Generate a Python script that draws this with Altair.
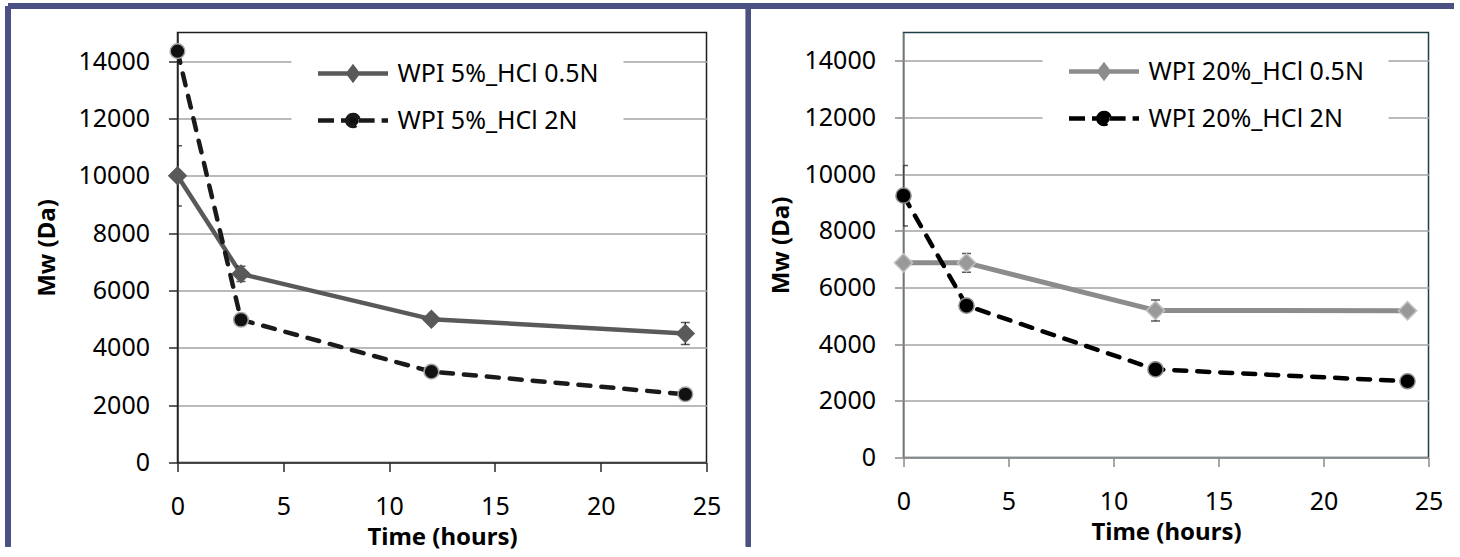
import altair as alt
import pandas as pd

# ---------------- data ----------------
time_hours = [0, 3, 12, 24]

left_series = ["WPI 5%_HCl 0.5N", "WPI 5%_HCl 2N"]
left_mw_05 = [10000, 6580, 5000, 4500]
left_err_05 = [1050, 270, 120, 380]
left_mw_2 = [14350, 4980, 3170, 2380]
left_err_2 = [150, 150, 120, 100]

right_series = ["WPI 20%_HCl 0.5N", "WPI 20%_HCl 2N"]
right_mw_05 = [6870, 6870, 5190, 5180]
right_err_05 = [120, 330, 370, 130]
right_mw_2 = [9240, 5360, 3110, 2690]
right_err_2 = [1070, 150, 120, 100]

y_ticks = [0, 2000, 4000, 6000, 8000, 10000, 12000, 14000]
x_ticks = [0, 5, 10, 15, 20, 25]
x_title = "Time  (hours)"
y_title = "Mw  (Da)"

FONT = "Noto Sans"
BORDER = "#4b5183"


def frame(names, mws, errs):
    rows = []
    for name, mw, err in zip(names, mws, errs):
        for t, m, e in zip(time_hours, mw, err):
            rows.append({"series": name, "time": t, "mw": m, "lo": m - e, "hi": m + e})
    return pd.DataFrame(rows)


def panel(df, names, st, width, height, axis_color, frame_color, ytitle_pad,
          leg_x, leg_y, borders):
    xscale = alt.Scale(domain=[0, 25], nice=False, zero=False)
    yscale = alt.Scale(domain=[0, 15000], nice=False)
    xaxis = alt.Axis(values=x_ticks, tickSize=9, tickWidth=1.5, tickColor=axis_color,
                     domainColor=axis_color, domainWidth=1.5, grid=False,
                     labelFont=FONT, labelFontSize=25, labelColor="black",
                     labelPadding=23, labelFlush=False, labelOverlap=False,
                     title=x_title, titleFont=FONT, titleFontSize=24,
                     titleFontWeight="bold", titleColor="black", titlePadding=6)
    yaxis = alt.Axis(values=y_ticks, format="d", tickSize=9, tickWidth=1.5,
                     tickColor=axis_color, domainColor=axis_color, domainWidth=1.5,
                     grid=True, gridColor="#a3a3a3", gridWidth=1.5,
                     labelFont=FONT, labelFontSize=25, labelColor="black",
                     labelPadding=19, labelFlush=False, labelOverlap=False,
                     title=y_title, titleFont=FONT, titleFontSize=24,
                     titleFontWeight="bold", titleColor="black", titlePadding=ytitle_pad)
    X = alt.X("time:Q", scale=xscale, axis=xaxis)

    def Y(field):
        return alt.Y(field, scale=yscale, axis=yaxis)

    base = alt.Chart(df)
    layers = []
    # border decoration (slide table frame)
    for b in borders:
        layers.append(base.mark_rule(color=BORDER, strokeWidth=5).encode(**b))
    # lines
    for name, s in zip(names, st):
        kw = dict(color=s["line"], strokeWidth=s["lw"], strokeCap="round", strokeJoin="round")
        if s.get("dash"):
            kw["strokeDash"] = s["dash"]
        layers.append(base.transform_filter(alt.datum.series == name)
                      .mark_line(**kw).encode(x=X, y=Y("mw:Q")))
    # error bars
    layers.append(base.mark_rule(color="#111111", strokeWidth=1.3, clip=True)
                  .encode(x=X, y=Y("lo:Q"), y2="hi:Q"))
    for f in ["lo:Q", "hi:Q"]:
        layers.append(base.mark_tick(orient="horizontal", size=9, thickness=1.5,
                                     color="#111111", clip=True)
                      .encode(x=X, y=Y(f)))
    # markers
    for name, s in zip(names, st):
        layers.append(base.transform_filter(alt.datum.series == name)
                      .mark_point(shape=s["shape"], filled=True, fill=s["fill"],
                                  stroke=s["edge"], strokeWidth=1.5, size=s["size"], opacity=1)
                      .encode(x=X, y=Y("mw:Q")))
    # legend
    legend = alt.Legend(title=None, orient="none", legendX=leg_x, legendY=leg_y,
                        fillColor="white", padding=24, labelFont=FONT, labelFontSize=25,
                        labelColor="black", labelLimit=400, labelOffset=7,
                        symbolSize=4900, symbolStrokeWidth=4.5, rowPadding=22,
                        clipHeight=24, symbolOpacity=1)
    layers.append(base.mark_point(opacity=0, size=4900, strokeWidth=4.5, filled=True, clip=True)
                  .encode(x=X, y=Y("mw:Q"),
                          shape=alt.Shape("series:N", scale=alt.Scale(domain=names, range=[s["lpath"] for s in st]), legend=legend),
                          stroke=alt.Stroke("series:N", scale=alt.Scale(domain=names, range=[s["line"] for s in st]), legend=legend),
                          fill=alt.Fill("series:N", scale=alt.Scale(domain=names, range=[s["lfill"] for s in st]), legend=legend),
                          strokeDash=alt.StrokeDash("series:N", scale=alt.Scale(domain=names, range=[s["ldash"] for s in st]), legend=legend)))
    return alt.layer(*layers).properties(
        width=width, height=height,
        view=alt.ViewBackground(stroke=frame_color, strokeWidth=1.5))


DIAMOND_LEG = "M-1,0L1,0M0,-0.17L0.13,0L0,0.17L-0.13,0Z"
CIRCLE_LEG = "M-1,0L-0.16,0M0.16,0L1,0M-0.16,0A0.16,0.16,0,1,1,0.16,0A0.16,0.16,0,1,1,-0.16,0Z"

left_styles = [
    dict(line="#595959", lw=4.5, shape="diamond", fill="#595959", edge="#595959", size=300,
         lpath=DIAMOND_LEG, lfill="#595959", ldash=[1, 0]),
    dict(line="#1a1a1a", lw=4.5, dash=[12, 11], shape="circle", fill="#111111", edge="#a6a6a6",
         size=215, lpath=CIRCLE_LEG, lfill="#111111", ldash=[16, 7]),
]
right_styles = [
    dict(line="#8c8c8c", lw=5, shape="diamond", fill="#999999", edge="#c0c0c0", size=330,
         lpath=DIAMOND_LEG, lfill="#999999", ldash=[1, 0]),
    dict(line="#000000", lw=4.5, dash=[12, 11], shape="circle", fill="#000000", edge="#8c8c8c",
         size=230, lpath=CIRCLE_LEG, lfill="#000000", ldash=[16, 7]),
]

left_df = frame(left_series, [left_mw_05, left_mw_2], [left_err_05, left_err_2])
right_df = frame(right_series, [right_mw_05, right_mw_2], [right_err_05, right_err_2])

left_borders = [
    dict(x=alt.value(-169.5), x2=alt.value(573), y=alt.value(-26.5)),
    dict(x=alt.value(-169.5), y=alt.value(-26.5), y2=alt.value(514)),
]
right_borders = [
    dict(x=alt.value(-157.6), x2=alt.value(550.4), y=alt.value(-26.5)),
    dict(x=alt.value(-155.1), y=alt.value(-26.5), y2=alt.value(514)),
]

left = panel(left_df, left_series, left_styles, 529, 430, "#2a2a2a", "#1e1e1e", 18,
             114, 5, left_borders)
right = panel(right_df, right_series, right_styles, 525, 425, "#8a8a8a", "#1f3d48", 10,
              139, 3, right_borders)

indep = dict(x="independent", y="independent", shape="independent", stroke="independent",
             fill="independent", strokeDash="independent")
chart = (
    alt.hconcat(left, right, spacing=197, bounds="flush")
    .resolve_scale(**indep)
    .resolve_legend(shape="independent", stroke="independent", fill="independent",
                    strokeDash="independent")
    .properties(padding={"left": 4.5, "top": 2.5, "right": 0, "bottom": 0},
                background="white")
    .configure(font=FONT)
)

chart.save("out.html", embed_options={"renderer": "svg", "actions": False})
